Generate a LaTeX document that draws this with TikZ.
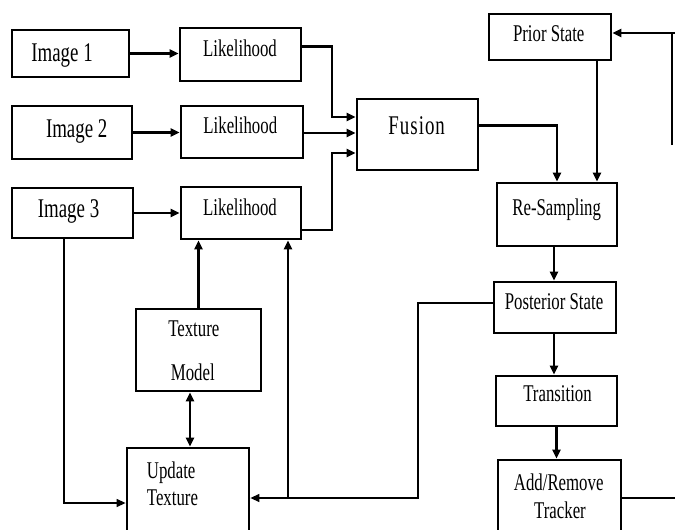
\documentclass[tikz,border=0pt]{standalone}
\usepackage{fontspec}
\setmainfont{Liberation Serif}[FakeStretch=0.7]
\usetikzlibrary{arrows.meta}
\begin{document}
\begin{tikzpicture}[x=1pt,y=-1pt,
  box/.style={draw, line width=2.8pt, inner sep=0pt},
  lbl/.style={inner sep=0pt, anchor=base, font=\fontsize{24}{28}\selectfont},
  lblbig/.style={inner sep=0pt, anchor=base, font=\fontsize{27}{30}\selectfont},
  conn/.style={line width=2.2pt, -{Triangle[length=9pt,width=8pt]}},
  plain/.style={line width=2.2pt},
  thinconn/.style={line width=1.3pt, -{Triangle[length=9pt,width=8pt]}}]
\useasboundingbox (0,0) rectangle (675,530);
% boxes
\node[box, minimum width=117pt, minimum height=47pt] (img1) at (70.5,53.5) {};
\node[box, minimum width=121pt, minimum height=53pt] (lik1) at (240.5,54.5) {};
\node[box, minimum width=120pt, minimum height=53pt] (img2) at (72,132.5) {};
\node[box, minimum width=122pt, minimum height=52pt] (lik2) at (242,132) {};
\node[box, minimum width=121pt, minimum height=50pt] (img3) at (72.5,213) {};
\node[box, minimum width=120pt, minimum height=52pt] (lik3) at (241,213) {};
\node[box, minimum width=121pt, minimum height=71pt] (fusion) at (417.5,134.5) {};
\node[box, minimum width=122pt, minimum height=46pt] (prior) at (550,37) {};
\node[box, minimum width=120pt, minimum height=63pt] (resamp) at (557,214.5) {};
\node[box, minimum width=122pt, minimum height=51pt] (post) at (555,307.5) {};
\node[box, minimum width=121pt, minimum height=50pt] (trans) at (556.5,401) {};
\node[box, minimum width=123pt, minimum height=79pt] (addrem) at (559.5,499.5) {};
\node[box, minimum width=125pt, minimum height=82pt] (texmod) at (198.5,350) {};
\node[box, minimum width=122pt, minimum height=91pt] (updtex) at (188,493.5) {};
% labels
\node[lblbig] (t-img1) at (62,61) {Image 1};
\node[lblbig] (t-img2) at (76.7,137) {Image 2};
\node[lblbig] (t-img3) at (68.5,217) {Image 3};
\node[lbl] (t-lik1) at (240,56) {Likelihood};
\node[lbl] (t-lik2) at (240.3,133) {Likelihood};
\node[lbl] (t-lik3) at (240,215) {Likelihood};
\node[lblbig] (t-fusion) at (416.7,134) {F\kern1pt u\kern1pt s\kern1pt i\kern1pt o\kern1pt n};
\node[lbl] (t-prior) at (548.7,41.7) {Prior State};
\node[lbl] (t-resamp) at (556.7,215) {Re-Sampling};
\node[lbl] (t-post) at (554,309) {Posterior State};
\node[lbl] (t-trans) at (557.5,401.7) {Transition};
\node[lbl] (t-add) at (558.7,490) {Add/Remove};
\node[lbl] (t-track) at (560,518.3) {Tracker};
\node[lbl] (t-tex1) at (193.8,336) {Texture};
\node[lbl] (t-model) at (192.8,380) {Model};
\node[lbl, anchor=base west] (t-upd) at (146.7,478.3) {Update};
\node[lbl, anchor=base west] (t-tex2) at (146.7,505) {Texture};
% coordinates for free ends / junctions
\coordinate (rtop) at (672,145);
\coordinate (rin) at ([yshift=4pt]prior.east);
\coordinate (rout) at (680,498);
\coordinate (pj) at (418,498);
\coordinate (bj) at (288,498);
% connectors
\draw[conn] (img1.east) -- (img1.east -| lik1.west);
\draw[conn] (img2.east) -- (img2.east -| lik2.west);
\draw[conn] (img3.east) -- (img3.east -| lik3.west);
\draw[conn] ([yshift=8pt]lik1.east) -| ([xshift=-24pt,yshift=17.5pt]fusion.west) -- ([yshift=17.5pt]fusion.west);
\draw[conn] ([yshift=-1pt]lik2.east) -- ([yshift=-1pt]lik2.east -| fusion.west);
\draw[conn] ([yshift=-17pt]lik3.east) -| ([xshift=-24pt,yshift=-18.5pt]fusion.west) -- ([yshift=-18.5pt]fusion.west);
\draw[conn] ([yshift=9pt]fusion.east) -| (resamp.north);
\draw[conn] ([xshift=47pt]prior.south) -- ([xshift=47pt]prior.south |- resamp.north);
\draw[line width=1.3pt] (rtop) -- (rtop |- rin);
\draw[conn] (rin -| rout) -- (rin);
\draw[conn] ([xshift=-3pt]resamp.south) -- ([xshift=-3pt]resamp.south |- post.north);
\draw[conn] ([xshift=-1pt]post.south) -- ([xshift=-1pt]post.south |- trans.north);
\draw[conn] (trans.south) -- (trans.south |- addrem.north);
\draw[plain] ([yshift=1.5pt]addrem.east) -- (rout);
\draw[thinconn] ([yshift=4.5pt]post.west) -| (pj) -- (pj -| updtex.east);
\draw[conn] (bj) -- (bj |- lik3.south);
\draw[thinconn] ([xshift=-8.5pt]img3.south) |- ([yshift=-9.5pt]updtex.west);
\draw[conn] (texmod.north) -- (texmod.north |- lik3.south);
\draw[line width=2.2pt, {Triangle[length=9pt,width=8pt]}-{Triangle[length=9pt,width=8pt]}] ([xshift=-8.5pt]texmod.south) -- ([xshift=-8.5pt]texmod.south |- updtex.north);
\end{tikzpicture}
\end{document}
